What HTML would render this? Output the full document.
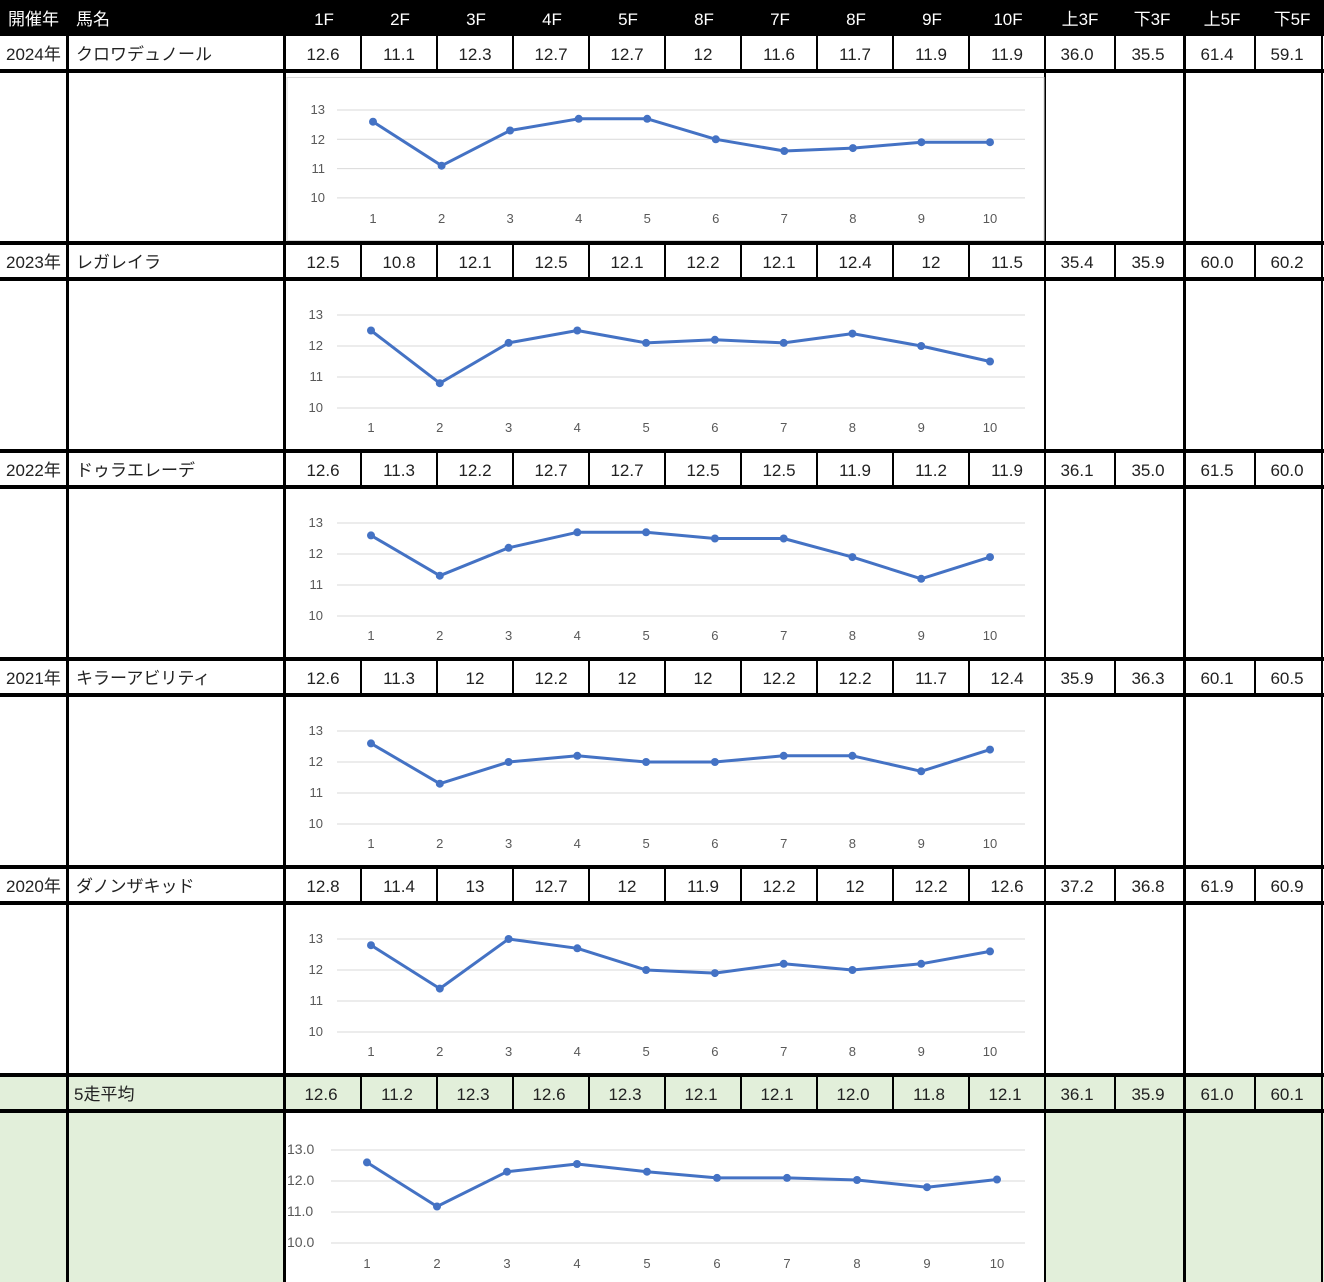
<!DOCTYPE html>
<html><head><meta charset="utf-8"><style>
html,body{margin:0;padding:0;background:#fff;}
svg{display:block;}
text{font-family:"Liberation Sans","Noto Sans CJK JP",sans-serif;}
.h{fill:#fff;font-size:17px;}
.d{fill:#222;font-size:17px;}
.c{text-anchor:middle;}
.ay{fill:#595959;font-size:13px;text-anchor:end;}
.ax{fill:#595959;font-size:13px;text-anchor:middle;}
.g{stroke:#d9d9d9;stroke-width:1;}
.s{fill:none;stroke:#4472c4;stroke-width:3;stroke-linejoin:round;marker-start:url(#m);marker-mid:url(#m);marker-end:url(#m);}
</style></head><body>
<svg width="1324" height="1282" viewBox="0 0 1324 1282" xmlns="http://www.w3.org/2000/svg">
<defs><marker id="m" markerUnits="userSpaceOnUse" markerWidth="10" markerHeight="10" refX="5" refY="5"><circle cx="5" cy="5" r="4" fill="#4472c4"/></marker></defs>
<!-- avg row green -->
<rect x="0" y="1073" width="1324" height="209" fill="#e2efda"/>
<rect x="286" y="1113" width="758" height="169" fill="#fff"/>
<!-- header -->
<rect x="0" y="0" width="1324" height="36" fill="#000"/>
<g class="h">
<text x="8" y="25">開催年</text><text x="76" y="25">馬名</text>
<g class="c"><text x="324" y="25">1F</text><text x="400" y="25">2F</text><text x="476" y="25">3F</text><text x="552" y="25">4F</text><text x="628" y="25">5F</text><text x="704" y="25">8F</text><text x="780" y="25">7F</text><text x="856" y="25">8F</text><text x="932" y="25">9F</text><text x="1008" y="25">10F</text><text x="1080" y="25">上3F</text><text x="1152" y="25">下3F</text><text x="1222" y="25">上5F</text><text x="1292" y="25">下5F</text></g>
</g>
<!-- horizontal thick lines -->
<g fill="#000">
<rect x="0" y="69" width="1324" height="4"/><rect x="0" y="241" width="1324" height="4"/>
<rect x="0" y="277" width="1324" height="4"/><rect x="0" y="449" width="1324" height="4"/>
<rect x="0" y="485" width="1324" height="4"/><rect x="0" y="657" width="1324" height="4"/>
<rect x="0" y="693" width="1324" height="4"/><rect x="0" y="865" width="1324" height="4"/>
<rect x="0" y="901" width="1324" height="4"/><rect x="0" y="1073" width="1324" height="4"/>
<rect x="0" y="1109" width="1324" height="4"/>
<!-- vertical thick -->
<rect x="66" y="36" width="3" height="1246"/><rect x="283" y="36" width="3" height="1246"/>
<rect x="1044" y="36" width="2" height="1246"/><rect x="1183" y="36" width="3" height="1246"/>
<rect x="1321" y="36" width="2" height="1246"/>
</g>
<!-- thin verticals in data rows -->
<g stroke="#000" stroke-width="2">
<path d="M361 36V70M437 36V70M513 36V70M589 36V70M665 36V70M741 36V70M817 36V70M893 36V70M969 36V70M1115 36V70M1255 36V70"/>
<path d="M361 244V278M437 244V278M513 244V278M589 244V278M665 244V278M741 244V278M817 244V278M893 244V278M969 244V278M1115 244V278M1255 244V278"/>
<path d="M361 452V486M437 452V486M513 452V486M589 452V486M665 452V486M741 452V486M817 452V486M893 452V486M969 452V486M1115 452V486M1255 452V486"/>
<path d="M361 660V694M437 660V694M513 660V694M589 660V694M665 660V694M741 660V694M817 660V694M893 660V694M969 660V694M1115 660V694M1255 660V694"/>
<path d="M361 868V902M437 868V902M513 868V902M589 868V902M665 868V902M741 868V902M817 868V902M893 868V902M969 868V902M1115 868V902M1255 868V902"/>
<path d="M361 1076V1110M437 1076V1110M513 1076V1110M589 1076V1110M665 1076V1110M741 1076V1110M817 1076V1110M893 1076V1110M969 1076V1110M1115 1076V1110M1255 1076V1110"/>
</g>
<!-- data text -->
<g class="d">
<text x="6" y="60">2024年</text><text x="76" y="60">クロワデュノール</text>
<g class="c"><text x="323" y="60">12.6</text><text x="399" y="60">11.1</text><text x="475" y="60">12.3</text><text x="551" y="60">12.7</text><text x="627" y="60">12.7</text><text x="703" y="60">12</text><text x="779" y="60">11.6</text><text x="855" y="60">11.7</text><text x="931" y="60">11.9</text><text x="1007" y="60">11.9</text><text x="1077" y="60">36.0</text><text x="1148" y="60">35.5</text><text x="1217" y="60">61.4</text><text x="1287" y="60">59.1</text></g>
<text x="6" y="268">2023年</text><text x="76" y="268">レガレイラ</text>
<g class="c"><text x="323" y="268">12.5</text><text x="399" y="268">10.8</text><text x="475" y="268">12.1</text><text x="551" y="268">12.5</text><text x="627" y="268">12.1</text><text x="703" y="268">12.2</text><text x="779" y="268">12.1</text><text x="855" y="268">12.4</text><text x="931" y="268">12</text><text x="1007" y="268">11.5</text><text x="1077" y="268">35.4</text><text x="1148" y="268">35.9</text><text x="1217" y="268">60.0</text><text x="1287" y="268">60.2</text></g>
<text x="6" y="476">2022年</text><text x="76" y="476">ドゥラエレーデ</text>
<g class="c"><text x="323" y="476">12.6</text><text x="399" y="476">11.3</text><text x="475" y="476">12.2</text><text x="551" y="476">12.7</text><text x="627" y="476">12.7</text><text x="703" y="476">12.5</text><text x="779" y="476">12.5</text><text x="855" y="476">11.9</text><text x="931" y="476">11.2</text><text x="1007" y="476">11.9</text><text x="1077" y="476">36.1</text><text x="1148" y="476">35.0</text><text x="1217" y="476">61.5</text><text x="1287" y="476">60.0</text></g>
<text x="6" y="684">2021年</text><text x="76" y="684">キラーアビリティ</text>
<g class="c"><text x="323" y="684">12.6</text><text x="399" y="684">11.3</text><text x="475" y="684">12</text><text x="551" y="684">12.2</text><text x="627" y="684">12</text><text x="703" y="684">12</text><text x="779" y="684">12.2</text><text x="855" y="684">12.2</text><text x="931" y="684">11.7</text><text x="1007" y="684">12.4</text><text x="1077" y="684">35.9</text><text x="1148" y="684">36.3</text><text x="1217" y="684">60.1</text><text x="1287" y="684">60.5</text></g>
<text x="6" y="892">2020年</text><text x="76" y="892">ダノンザキッド</text>
<g class="c"><text x="323" y="892">12.8</text><text x="399" y="892">11.4</text><text x="475" y="892">13</text><text x="551" y="892">12.7</text><text x="627" y="892">12</text><text x="703" y="892">11.9</text><text x="779" y="892">12.2</text><text x="855" y="892">12</text><text x="931" y="892">12.2</text><text x="1007" y="892">12.6</text><text x="1077" y="892">37.2</text><text x="1148" y="892">36.8</text><text x="1217" y="892">61.9</text><text x="1287" y="892">60.9</text></g>
<text x="74" y="1100">5走平均</text>
<g class="c"><text x="321" y="1100">12.6</text><text x="397" y="1100">11.2</text><text x="473" y="1100">12.3</text><text x="549" y="1100">12.6</text><text x="625" y="1100">12.3</text><text x="701" y="1100">12.1</text><text x="777" y="1100">12.1</text><text x="853" y="1100">12.0</text><text x="929" y="1100">11.8</text><text x="1005" y="1100">12.1</text><text x="1077" y="1100">36.1</text><text x="1148" y="1100">35.9</text><text x="1217" y="1100">61.0</text><text x="1287" y="1100">60.1</text></g>
</g>
<!-- chart 1 -->
<rect x="287" y="77.5" width="757" height="163" fill="#fff" stroke="#d9d9d9"/>
<path class="g" d="M337 110H1025M337 139.3H1025M337 168.6H1025M337 197.9H1025"/>
<g class="ay"><text x="325" y="114">13</text><text x="325" y="144">12</text><text x="325" y="173">11</text><text x="325" y="202">10</text></g>
<g class="ax"><text x="373" y="223">1</text><text x="441.6" y="223">2</text><text x="510.1" y="223">3</text><text x="578.7" y="223">4</text><text x="647.2" y="223">5</text><text x="715.8" y="223">6</text><text x="784.3" y="223">7</text><text x="852.9" y="223">8</text><text x="921.4" y="223">9</text><text x="990" y="223">10</text></g>
<polyline class="s" points="373,121.7 441.6,165.7 510.1,130.5 578.7,118.8 647.2,118.8 715.8,139.3 784.3,151 852.9,148.1 921.4,142.2 990,142.2"/>
<!-- chart 2 -->
<path class="g" d="M337 315H1025M337 346H1025M337 377H1025M337 408H1025"/>
<g class="ay"><text x="323" y="319">13</text><text x="323" y="350">12</text><text x="323" y="381">11</text><text x="323" y="412">10</text></g>
<g class="ax"><text x="371" y="432">1</text><text x="439.8" y="432">2</text><text x="508.6" y="432">3</text><text x="577.3" y="432">4</text><text x="646.1" y="432">5</text><text x="714.9" y="432">6</text><text x="783.7" y="432">7</text><text x="852.4" y="432">8</text><text x="921.2" y="432">9</text><text x="990" y="432">10</text></g>
<polyline class="s" points="371,330.5 439.8,383.2 508.6,342.9 577.3,330.5 646.1,342.9 714.9,339.8 783.7,342.9 852.4,333.6 921.2,346 990,361.5"/>
<!-- chart 3 -->
<path class="g" d="M337 523H1025M337 554H1025M337 585H1025M337 616H1025"/>
<g class="ay"><text x="323" y="527">13</text><text x="323" y="558">12</text><text x="323" y="589">11</text><text x="323" y="620">10</text></g>
<g class="ax"><text x="371" y="640">1</text><text x="439.8" y="640">2</text><text x="508.6" y="640">3</text><text x="577.3" y="640">4</text><text x="646.1" y="640">5</text><text x="714.9" y="640">6</text><text x="783.7" y="640">7</text><text x="852.4" y="640">8</text><text x="921.2" y="640">9</text><text x="990" y="640">10</text></g>
<polyline class="s" points="371,535.4 439.8,575.7 508.6,547.8 577.3,532.3 646.1,532.3 714.9,538.5 783.7,538.5 852.4,557.1 921.2,578.8 990,557.1"/>
<!-- chart 4 -->
<path class="g" d="M337 731H1025M337 762H1025M337 793H1025M337 824H1025"/>
<g class="ay"><text x="323" y="735">13</text><text x="323" y="766">12</text><text x="323" y="797">11</text><text x="323" y="828">10</text></g>
<g class="ax"><text x="371" y="848">1</text><text x="439.8" y="848">2</text><text x="508.6" y="848">3</text><text x="577.3" y="848">4</text><text x="646.1" y="848">5</text><text x="714.9" y="848">6</text><text x="783.7" y="848">7</text><text x="852.4" y="848">8</text><text x="921.2" y="848">9</text><text x="990" y="848">10</text></g>
<polyline class="s" points="371,743.4 439.8,783.7 508.6,762 577.3,755.8 646.1,762 714.9,762 783.7,755.8 852.4,755.8 921.2,771.3 990,749.6"/>
<!-- chart 5 -->
<path class="g" d="M337 939H1025M337 970H1025M337 1001H1025M337 1032H1025"/>
<g class="ay"><text x="323" y="943">13</text><text x="323" y="974">12</text><text x="323" y="1005">11</text><text x="323" y="1036">10</text></g>
<g class="ax"><text x="371" y="1056">1</text><text x="439.8" y="1056">2</text><text x="508.6" y="1056">3</text><text x="577.3" y="1056">4</text><text x="646.1" y="1056">5</text><text x="714.9" y="1056">6</text><text x="783.7" y="1056">7</text><text x="852.4" y="1056">8</text><text x="921.2" y="1056">9</text><text x="990" y="1056">10</text></g>
<polyline class="s" points="371,945.2 439.8,988.6 508.6,939 577.3,948.3 646.1,970 714.9,973.1 783.7,963.8 852.4,970 921.2,963.8 990,951.4"/>
<!-- avg chart -->
<path class="g" d="M331 1150H1025M331 1181H1025M331 1212H1025M331 1243H1025"/>
<g class="ay" style="text-anchor:start;font-size:14px"><text x="287" y="1154">13.0</text><text x="287" y="1185">12.0</text><text x="287" y="1216">11.0</text><text x="287" y="1247">10.0</text></g>
<g class="ax"><text x="367" y="1268">1</text><text x="437" y="1268">2</text><text x="507" y="1268">3</text><text x="577" y="1268">4</text><text x="647" y="1268">5</text><text x="717" y="1268">6</text><text x="787" y="1268">7</text><text x="857" y="1268">8</text><text x="927" y="1268">9</text><text x="997" y="1268">10</text></g>
<polyline class="s" points="367,1162.4 437,1206.5 507,1171.7 577,1164 647,1171.7 717,1177.9 787,1177.9 857,1180 927,1187.2 997,1179.5"/>
</svg>
</body></html>
